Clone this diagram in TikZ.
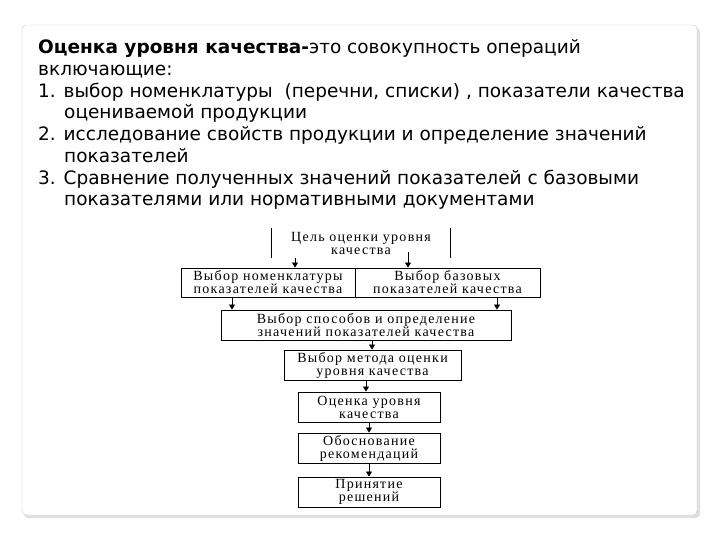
\documentclass[tikz,border=0pt]{standalone}
\usepackage{fontspec}
\setmainfont{DejaVu Sans}
\newfontfamily\boxfont[LetterSpace=9]{Liberation Serif}
\usetikzlibrary{arrows.meta}
\begin{document}
\begin{tikzpicture}[x=1pt,y=-1pt,
  bx/.style={draw,line width=0.9pt,inner sep=0pt,align=center,font=\boxfont\fontsize{14}{13}\selectfont},
  arr/.style={-{Triangle[width=6pt,length=5pt]},line width=0.6pt},
  tl/.style={anchor=base west,inner sep=0pt,font=\fontsize{18.5}{20}\selectfont}]
\useasboundingbox (0,0) rectangle (720,540);
\fill[gray!25,rounded corners=4pt] (24,28) rectangle (700,518);
\draw[gray!45,fill=white,rounded corners=4pt] (22,25) rectangle (697,515);
\node[tl] (t1) at (38,54) {\textbf{Оценка уровня качества-}это совокупность операций};
\node[tl] (t2) at (38,76) {включающие:};
\node[tl] (t3) at (38,98) {1. выбор номенклатуры \ (перечни, списки) , показатели качества};
\node[tl] (t4) at (64,119) {оцениваемой продукции};
\node[tl] (t5) at (38,141) {2. исследование свойств продукции и определение значений};
\node[tl] (t6) at (64,163) {показателей};
\node[tl] (t7) at (38,185) {3. Сравнение полученных значений показателей с базовыми};
\node[tl] (t8) at (64,206) {показателями или нормативными документами};
% top box (side lines only)
\node[bx,draw=none,minimum width=178pt,minimum height=30pt] (a) at (361,243) {Цель оценки уровня\\качества};
\draw[line width=0.9pt] (a.north west) -- (a.south west) (a.north east) -- (a.south east);
\node[bx,minimum width=174pt,minimum height=29pt] (b1) at (268,282.5) {Выбор номенклатуры\\показателей качества};
\node[bx,minimum width=185pt,minimum height=29pt] (b2) at (447.5,282.5) {Выбор базовых\\показателей качества};
\node[bx,minimum width=290pt,minimum height=30pt] (c) at (366,325) {Выбор способов и определение\\значений показателей качества};
\node[bx,minimum width=177pt,minimum height=30pt] (d) at (372.5,365) {Выбор метода оценки\\уровня качества};
\node[bx,minimum width=142pt,minimum height=30pt] (e) at (369,407) {Оценка уровня\\качества};
\node[bx,minimum width=142pt,minimum height=30pt] (f) at (369,448) {Обоснование\\рекомендаций};
\node[bx,minimum width=142pt,minimum height=30pt] (g) at (369,492) {Принятие\\решений};
\coordinate (s1) at (295,258); \coordinate (s2) at (408,252);
\draw[arr] (s1) -- (s1|-b1.north);
\draw[arr] (s2) -- (s2|-b2.north);
\draw[arr] (232,0|-b1.south) -- (232,0|-c.north);
\draw[arr] (497,0|-b2.south) -- (497,0|-c.north);
\draw[arr] (372,0|-c.south) -- (372,0|-d.north);
\draw[arr] (366,0|-d.south) -- (366,0|-e.north);
\draw[arr] (e) -- (f);
\draw[arr] (f) -- (g);
\end{tikzpicture}
\end{document}
